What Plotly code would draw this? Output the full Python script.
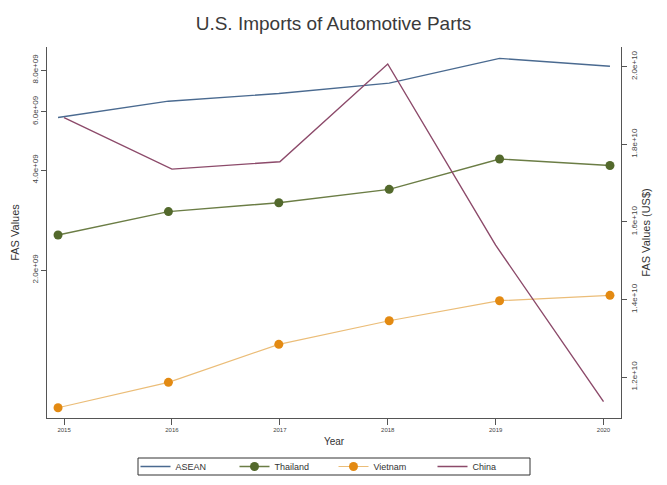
import plotly.graph_objects as go

# Years shown on the horizontal axis
years = [2015, 2016, 2017, 2018, 2019, 2020]

# FAS import values (US$), left log axis
asean = [5.76e9, 6.45e9, 6.80e9, 7.31e9, 8.68e9, 8.22e9]
thailand = [2.55e9, 3.00e9, 3.19e9, 3.50e9, 4.32e9, 4.13e9]
vietnam = [7.70e8, 9.18e8, 1.195e9, 1.407e9, 1.617e9, 1.678e9]

# China, right linear axis
china = [1.869e10, 1.736e10, 1.755e10, 2.007e10, 1.540e10, 1.137e10]

# Tick labels
left_ticks = [2e9, 4e9, 6e9, 8e9]
left_labels = ["2.0e+09", "4.0e+09", "6.0e+09", "8.0e+09"]
right_ticks = [1.2e10, 1.4e10, 1.6e10, 1.8e10, 2.0e10]
right_labels = ["1.2e+10", "1.4e+10", "1.6e+10", "1.8e+10", "2.0e+10"]
year_labels = ["2015", "2016", "2017", "2018", "2019", "2020"]

FONT = "Liberation Sans, Arial, sans-serif"
AX = "#555555"

fig = go.Figure()

fig.add_trace(go.Scatter(
    x=years, y=asean, name="ASEAN", mode="lines",
    line=dict(color="#4a6a90", width=1.4),
    xaxis="x", yaxis="y",
))
fig.add_trace(go.Scatter(
    x=years, y=thailand, name="Thailand", mode="lines+markers",
    line=dict(color="#6b7d45", width=1.4),
    marker=dict(color="#53692c", size=9),
    xaxis="x", yaxis="y",
))
fig.add_trace(go.Scatter(
    x=years, y=vietnam, name="Vietnam", mode="lines+markers",
    line=dict(color="#ebbd78", width=1.2),
    marker=dict(color="#e38a12", size=9),
    xaxis="x", yaxis="y",
))
fig.add_trace(go.Scatter(
    x=years, y=china, name="China", mode="lines",
    line=dict(color="#8c4a6a", width=1.4),
    xaxis="x2", yaxis="y2",
))

fig.update_layout(
    width=667, height=485,
    margin=dict(l=47, r=46, t=47, b=67),
    paper_bgcolor="white", plot_bgcolor="white",
    font=dict(family=FONT, color="#333333"),
    title=dict(text="U.S. Imports of Automotive Parts", x=0.5, xanchor="center",
               y=0.952, yanchor="middle",
               font=dict(size=19, color="#3a3a3a", family=FONT)),
    showlegend=True,
    legend=dict(orientation="h", x=0.5, xanchor="center", xref="container",
                y=1 - 466.5 / 485, yanchor="middle", yref="container",
                bgcolor="rgba(0,0,0,0)", borderwidth=0, font=dict(size=9),
                entrywidth=54, itemwidth=30, tracegroupgap=0),
    # thin frame around the legend row
    shapes=[dict(type="rect", xref="paper", yref="paper",
                 x0=(138 - 47) / 574, x1=(530 - 47) / 574,
                 y0=(418 - 475) / 371, y1=(418 - 458) / 371,
                 line=dict(color="#333333", width=1), fillcolor="rgba(0,0,0,0)",
                 layer="below")],
    # axis carrying ASEAN / Thailand / Vietnam; draws the bottom line only
    xaxis=dict(
        range=[2014.90, 2020.10], automargin=False,
        showgrid=False, zeroline=False, showline=True, linecolor=AX, linewidth=1.2,
        ticks="", showticklabels=False,
    ),
    # axis carrying China; draws the year ticks and title
    xaxis2=dict(
        range=[2014.842, 2020.162], overlaying="x", side="bottom", anchor="y",
        automargin=False, tickvals=years, ticktext=year_labels,
        showgrid=False, zeroline=False, showline=False,
        ticks="outside", ticklen=6, tickcolor=AX, tickfont=dict(size=6, color="#444"),
        title=dict(text="Year", font=dict(size=10, color="#333"), standoff=5),
    ),
    yaxis=dict(
        type="log", range=[8.8555, 9.9727], automargin=False,
        tickvals=left_ticks, ticktext=left_labels, tickangle=-90,
        showgrid=False, zeroline=False, showline=True, linecolor=AX, linewidth=1.2,
        ticks="outside", ticklen=5, tickcolor=AX, tickfont=dict(size=8, color="#444"),
        title=dict(text="FAS Values", font=dict(size=11, color="#333"), standoff=8),
    ),
    yaxis2=dict(
        overlaying="y", side="right", anchor="x2", range=[1.0946e10, 2.0508e10],
        automargin=False,
        tickvals=right_ticks, ticktext=right_labels, tickangle=-90,
        showgrid=False, zeroline=False, showline=True, linecolor=AX, linewidth=1.2,
        ticks="outside", ticklen=5, tickcolor=AX, tickfont=dict(size=8, color="#444"),
        title=dict(text="FAS Values (US$)", font=dict(size=11, color="#333"), standoff=4),
    ),
)

fig.write_html("out.html")
